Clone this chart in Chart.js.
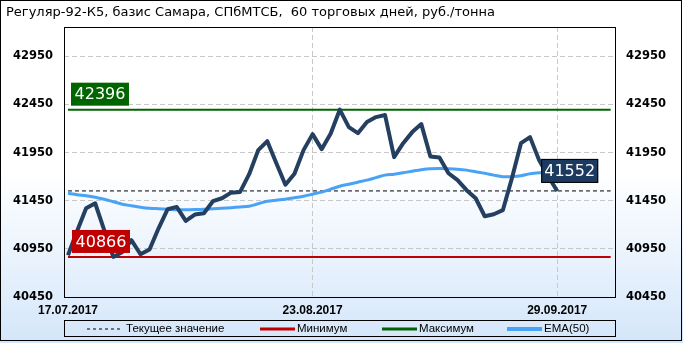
<!DOCTYPE html>
<html><head><meta charset="utf-8">
<script src="https://cdn.jsdelivr.net/npm/chart.js@4.4.1/dist/chart.umd.min.js"></script>
<style>html,body{margin:0;padding:0;background:#fff;}canvas{display:block;}</style>
</head><body>
<canvas id="c" width="683" height="343"></canvas>
<script>
// ---- data ----
const titleText = 'Регуляр-92-К5, базис Самара, СПбМТСБ,  60 торговых дней, руб./тонна';
const dateLabels = ['17.07.2017', '23.08.2017', '29.09.2017'];
const dateIndex = [0, 27, 54];
const yTicks = [40450, 40950, 41450, 41950, 42450, 42950];
const price = [40884, 41133, 41372, 41424, 41144, 40866, 40918, 41040, 40894, 40943,
  41164, 41362, 41386, 41240, 41307, 41320, 41445, 41476, 41534, 41542,
  41726, 41976, 42069, 41840, 41617, 41731, 41976, 42142, 41986, 42149,
  42396, 42215, 42152, 42267, 42319, 42340, 41903, 42048, 42163, 42246,
  41910, 41900, 41736, 41664, 41560, 41476, 41289, 41310, 41352, 41684,
  42048, 42111, 41872, 41705, 41552];
const ema50 = [41528, 41513, 41502, 41487, 41466, 41440, 41414, 41398, 41383, 41372,
  41367, 41362, 41357, 41357, 41359, 41362, 41367, 41372, 41378, 41385,
  41393, 41419, 41445, 41456, 41466, 41482, 41497, 41518, 41539, 41570,
  41601, 41622, 41643, 41664, 41690, 41716, 41726, 41740, 41757, 41773,
  41783, 41785, 41783, 41778, 41768, 41752, 41736, 41716, 41700, 41700,
  41710, 41731, 41740, 41742, 41742];
const legendNames = ['Текущее значение', 'Минимум', 'Максимум', 'EMA(50)'];

// ---- derived ----
const minVal = Math.min(...price);
const maxVal = Math.max(...price);
const curVal = price[price.length - 1];
const X_MIN = -0.44, X_MAX = 60.38, LINE_END = 59.9;
const Y_MIN = 40450, Y_MAX = 43255;
const pts = arr => arr.map((v, i) => ({x: i, y: v}));
const hline = v => [{x: 0, y: v}, {x: LINE_END, y: v}];

const C_PRICE = '#243f60', C_EMA = '#4aa2f5', C_MIN = '#c00000', C_MAX = '#006400';

const bgPlugin = {
  id: 'bg',
  beforeDraw(chart) {
    const ctx = chart.ctx;
    const g = ctx.createLinearGradient(0, 0, 0, chart.height);
    g.addColorStop(0, '#ffffff');
    g.addColorStop(0.5, '#ffffff');
    g.addColorStop(1, '#d4e6fa');
    ctx.save();
    ctx.fillStyle = g;
    ctx.fillRect(0, 0, chart.width, chart.height);
    ctx.restore();
  },
  afterDatasetsDraw(chart) {
    const ctx = chart.ctx;
    const ys = chart.scales.y, xs = chart.scales.x;
    const box = (txt, left, bottom, w, h, fill, stroke) => {
      ctx.save();
      ctx.fillStyle = fill;
      ctx.fillRect(left, bottom - h, w, h);
      if (stroke) { ctx.strokeStyle = stroke; ctx.lineWidth = 1; ctx.strokeRect(left + 0.5, bottom - h + 0.5, w - 1, h - 1); }
      ctx.fillStyle = '#ffffff';
      ctx.font = '16px "DejaVu Sans"';
      ctx.textAlign = 'center';
      ctx.textBaseline = 'middle';
      ctx.fillText(txt, left + w / 2, bottom - h / 2 + 1);
      ctx.restore();
    };
    const x0 = xs.getPixelForValue(0);
    box(String(maxVal), x0 + 3, ys.getPixelForValue(maxVal) - 4, 58, 23, C_MAX);
    box(String(minVal), x0 + 4, ys.getPixelForValue(minVal) - 4, 58, 23, C_MIN);
    const xl = xs.getPixelForValue(price.length - 1);
    box(String(curVal), xl - 16, ys.getPixelForValue(curVal) - 8, 57, 24, '#1c3a60', '#000000');
  },
  afterDraw(chart) {
    const ctx = chart.ctx;
    const a = chart.chartArea;
    ctx.save();
    // plot border
    ctx.strokeStyle = '#000';
    ctx.lineWidth = 1;
    ctx.strokeRect(Math.round(a.left) + 0.5, Math.round(a.top) + 0.5, Math.round(a.right - a.left), Math.round(a.bottom - a.top));
    // outer border
    ctx.strokeRect(0.5, 0.5, chart.width - 2, chart.height - 3);
    // title
    ctx.fillStyle = '#000';
    ctx.font = '13px "DejaVu Sans"';
    ctx.textBaseline = 'middle';
    ctx.textAlign = 'left';
    ctx.fillText(titleText, 6, 13);
    // legend box
    const lt = 320, lh = 16;
    ctx.strokeRect(Math.round(a.left) + 0.5, lt + 0.5, Math.round(a.right - a.left), lh);
    const ly = lt + lh / 2 + 1;
    const starts = [87, 260, 382, 507];
    const styles = [
      {c: '#000', w: 1, d: [3, 3]},
      {c: C_MIN, w: 3, d: []},
      {c: C_MAX, w: 3, d: []},
      {c: C_EMA, w: 4, d: []}];
    ctx.font = '11.5px "Liberation Sans"';
    legendNames.forEach((n, i) => {
      const s = styles[i];
      ctx.save();
      ctx.strokeStyle = s.c; ctx.lineWidth = s.w; ctx.setLineDash(s.d);
      ctx.beginPath(); ctx.moveTo(starts[i], ly); ctx.lineTo(starts[i] + 35, ly); ctx.stroke();
      ctx.restore();
      ctx.fillStyle = '#000';
      ctx.fillText(n, starts[i] + (i === 0 ? 39 : 37), ly);
    });
    ctx.restore();
  }
};

const yCommon = {
  type: 'linear', min: Y_MIN, max: Y_MAX,
  afterBuildTicks: s => { s.ticks = yTicks.map(v => ({value: v})); },
  ticks: {padding: 11, color: '#000', font: {family: 'DejaVu Sans', size: 11.5, weight: 'bold'},
    callback: v => String(v)},
  border: {display: false, dash: [5, 3]},
};

new Chart(document.getElementById('c'), {
  type: 'line',
  data: {
    datasets: [
      {label: 'price', data: pts(price), borderColor: C_PRICE, borderWidth: 4, pointRadius: 0, tension: 0, borderJoinStyle: 'round', order: 1},
      {label: legendNames[3], data: pts(ema50), borderColor: C_EMA, borderWidth: 3, pointRadius: 0, tension: 0.3, order: 2},
      {label: legendNames[0], data: hline(curVal), borderColor: '#000', borderWidth: 1, borderDash: [4, 3], pointRadius: 0, order: 3},
      {label: legendNames[1], data: hline(minVal), borderColor: C_MIN, borderWidth: 2, pointRadius: 0, order: 4},
      {label: legendNames[2], data: hline(maxVal), borderColor: C_MAX, borderWidth: 2, pointRadius: 0, order: 4}
    ]
  },
  options: {
    responsive: false, animation: false,
    layout: {padding: {top: 27, left: 0, right: 0, bottom: 0}},
    plugins: {legend: {display: false}, title: {display: false}, tooltip: {enabled: false}},
    scales: {
      x: {
        type: 'linear', min: X_MIN, max: X_MAX,
        afterBuildTicks: s => { s.ticks = dateIndex.map(v => ({value: v})); },
        afterFit: s => { s.height = 46; },
        ticks: {autoSkip: false, maxRotation: 0, padding: 6, color: '#000',
          font: {family: 'Liberation Sans', size: 12, weight: 'bold'},
          callback: v => dateLabels[dateIndex.indexOf(v)] || ''},
        grid: {drawTicks: false, color: c => (c.tick && c.tick.value === 0) ? 'rgba(0,0,0,0)' : '#c8c8c8'},
        border: {display: false, dash: [5, 3]}
      },
      y: Object.assign({}, yCommon, {position: 'left',
        afterFit: s => { s.width = 64; },
        grid: {drawTicks: false, color: c => (c.tick && c.tick.value === Y_MIN) ? 'rgba(0,0,0,0)' : '#c8c8c8'}}),
      y2: Object.assign({}, yCommon, {position: 'right',
        afterFit: s => { s.width = 68; },
        grid: {display: false, drawTicks: false}})
    }
  },
  plugins: [bgPlugin]
});
</script>
</body></html>
